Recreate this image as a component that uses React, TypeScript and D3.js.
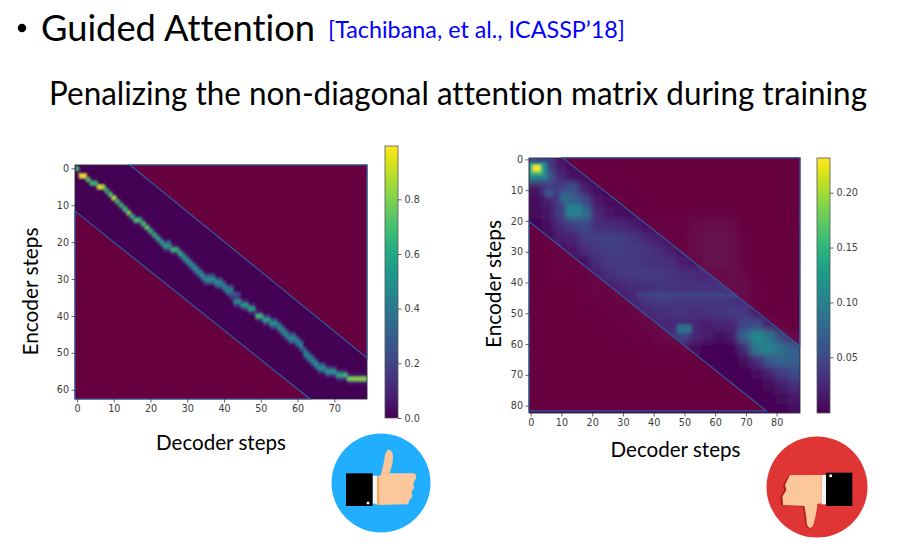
import React, { useEffect, useRef } from "react";
import * as d3 from "d3";

// ---- Left panel: alignment path, one entry per decoder step ----
const leftEncoder = [0,2,2,3,4,4,5,5,6,7,8,9,10,11,12,13,14,14,15,16,17,18,19,20,21,21,22,22,23,24,25,26,27,28,29,30,30,30,31,31,32,33,33,36,36,37,37,38,38,40,40,41,41,42,42,43,44,45,46,46,47,48,50,51,52,53,54,54,55,55,55,56,56,56,57,57,57,57,57,57];
const leftPeak = [.7,.99,.99,.72,.68,.66,.95,.88,.66,.72,.88,.68,.66,.66,.82,.66,.7,.66,.7,.74,.66,.62,.6,.56,.6,.5,.68,.68,.64,.56,.55,.52,.54,.52,.5,.48,.5,.52,.5,.48,.46,.48,.46,.48,.5,.54,.56,.6,.58,.68,.66,.62,.56,.54,.54,.5,.5,.5,.5,.46,.46,.46,.46,.48,.5,.52,.54,.52,.54,.54,.56,.58,.6,.68,.78,.82,.82,.82,.82,.82];
const leftSide = [0,0,0,0,0,0,0,0,0,.02,.02,.02,.04,.04,.05,.05,.06,.06,.06,.06,.08,.08,.1,.12,.15,.15,.08,.08,.14,.18,.18,.18,.2,.22,.24,.24,.24,.24,.25,.25,.25,.24,.24,.16,.14,.14,.14,.12,.12,.1,.1,.14,.18,.2,.2,.24,.25,.25,.25,.26,.28,.28,.26,.26,.25,.25,.22,.22,.2,.18,.16,.14,.14,.1,.08,.06,.06,.06,.06,.06];
const leftExtraDec = [25,43,44,42];
const leftExtraEnc = [20,34,34,35];
const leftExtraVal = [.35,.3,.18,.18];
const leftUpperDec = [14.4,78.9];
const leftUpperEnc = [-0.9,51.4];
const leftLowerDec = [-0.55,63.4];
const leftLowerEnc = [11.6,62.5];
const leftXTicks = [0,10,20,30,40,50,60,70];
const leftYTicks = [0,10,20,30,40,50,60];
const leftBarTicks = [0,.2,.4,.6,.8];

// ---- Right panel: coarse attention matrix, values x 1000, every 4 steps ----
const rightMatrix = [
  [55,45,14,5,3,2,2,2,1,1,1,1,1,1,1,1,1,1,1,1,1,1],
  [85,70,25,10,5,3,2,2,1,1,1,1,1,1,1,1,1,1,1,1,1,1],
  [12,40,45,60,18,6,3,2,2,1,1,1,1,1,1,1,1,1,1,1,1,1],
  [8,20,40,75,55,14,8,5,3,2,1,1,1,1,1,1,1,1,1,1,1,1],
  [6,12,42,95,85,26,14,10,8,4,2,1,1,6,8,8,7,1,1,1,1,1],
  [3,7,28,45,52,32,28,24,18,10,8,8,8,22,32,34,24,4,1,1,1,1],
  [2,5,16,22,40,42,46,42,36,26,16,10,10,32,44,48,32,7,1,1,1,1],
  [2,3,10,13,28,38,42,42,40,36,30,18,12,34,46,52,36,8,1,1,1,1],
  [2,2,7,7,11,32,38,40,38,36,34,30,20,14,42,50,40,10,1,1,1,1],
  [1,4,6,3,6,18,32,38,40,40,40,36,30,28,26,26,32,18,3,1,1,1],
  [1,4,3,2,8,12,18,24,28,32,36,36,34,34,34,36,36,30,10,2,1,1],
  [1,1,1,1,5,9,10,14,26,36,42,40,38,40,38,36,36,26,6,2,1,1],
  [1,1,1,1,2,3,5,8,14,24,30,34,34,30,34,36,40,38,14,3,1,1],
  [1,1,1,1,2,2,4,5,8,14,24,24,28,24,20,24,24,50,52,20,6,2],
  [1,1,1,1,1,2,2,3,5,10,20,30,48,24,16,9,16,75,110,90,50,20],
  [1,1,1,1,1,1,1,2,3,4,5,8,12,6,4,3,4,28,95,105,85,68],
  [1,1,1,1,1,1,1,1,1,2,2,3,3,2,2,2,2,6,28,62,72,68],
  [1,1,1,1,1,1,1,1,1,1,1,1,2,2,2,2,2,3,7,18,42,52],
  [1,1,1,1,1,1,1,1,1,1,1,1,1,1,1,1,1,2,3,5,18,32],
  [1,1,1,1,1,1,1,1,1,1,1,1,1,1,1,1,1,1,2,3,5,14],
  [1,1,1,1,1,1,1,1,1,1,1,1,1,1,1,1,1,1,1,2,3,8],
];
const rightStep = [4];
// soft details: decoder from, decoder to, encoder from, encoder to, value x 1000
const rightSoftDec0 = [5,10,12,35,48];
const rightSoftDec1 = [8,13,17,68,53];
const rightSoftEnc0 = [10,11,15,44,54];
const rightSoftEnc1 = [13,15,19,45,57];
const rightSoftVal = [65,85,105,60,105];
// the hot spot at the start of the alignment
const rightHotDec0 = [-0.5,0.5,1.2];
const rightHotDec1 = [6,4.5,3.6];
const rightHotEnc0 = [1.5,2,2.4];
const rightHotEnc1 = [7,5.5,4.4];
const rightHotVal = [105,165,230];
const rightUpperDec = [10.4,87.5];
const rightUpperEnc = [-0.5,60.6];
const rightLowerDec = [-0.5,76.6];
const rightLowerEnc = [20.2,81.7];
const rightXTicks = [0,10,20,30,40,50,60,70,80];
const rightYTicks = [0,10,20,30,40,50,60,70,80];
const rightBarTicks = [.05,.1,.15,.2];

const MAROON = "#67003f";
const MAROON_OVER = "#750037";
const LINE = "#2f5c9c";
const TICK = "#3c3c3c";
const FONT = "Lato, Open Sans";
const NOLIG: any = { fontVariantLigatures: "none", fontKerning: "normal" };

function styleAxis(sel: any) {
  sel.select(".domain").remove();
  sel.selectAll("line").attr("stroke", TICK).attr("stroke-width", 0.8);
  sel.selectAll("text").attr("fill", TICK).style("font-family", "DejaVu Sans").style("font-size", "9.6px");
}

function Axes({ x, y, xTicks, yTicks }: any) {
  const gx = useRef<SVGGElement>(null);
  const gy = useRef<SVGGElement>(null);
  useEffect(() => {
    d3.select(gx.current).call(d3.axisBottom(x).tickValues(xTicks).tickFormat(d3.format("d")).tickSize(3.5).tickPadding(2.5) as any).call(styleAxis);
    d3.select(gy.current).call(d3.axisLeft(y).tickValues(yTicks).tickFormat(d3.format("d")).tickSize(3.5).tickPadding(2.5) as any).call(styleAxis);
  }, []);
  return (
    <g>
      <g ref={gx} transform={`translate(0,${y.range()[1]})`} />
      <g ref={gy} transform={`translate(${x.range()[0]},0)`} />
    </g>
  );
}

function Colorbar({ id, x0, x1, y0, y1, max, min, ticks, fmt }: any) {
  const g = useRef<SVGGElement>(null);
  const s = d3.scaleLinear().domain([min, max]).range([y1, y0]);
  useEffect(() => {
    d3.select(g.current).call(d3.axisRight(s).tickValues(ticks).tickFormat(d3.format(fmt)).tickSize(3.5).tickPadding(3) as any).call(styleAxis);
  }, []);
  const stops = d3.range(0, 1.001, 0.05);
  return (
    <g>
      <defs>
        <linearGradient id={id} x1="0" x2="0" y1="1" y2="0">
          {stops.map((t) => <stop key={t} offset={t} stopColor={d3.interpolateViridis(t)} />)}
        </linearGradient>
      </defs>
      <rect x={x0} y={y0} width={x1 - x0} height={y1 - y0} fill={`url(#${id})`} stroke="#555" strokeWidth={0.8} />
      <g ref={g} transform={`translate(${x1},0)`} />
    </g>
  );
}

function Overlay({ x, y, upDec, upEnc, loDec, loEnc, opacity, fill }: any) {
  const [dx0, dx1] = x.domain();
  const line = d3.line<[number, number]>().x((d) => x(d[0])).y((d) => y(d[1]));
  const upper: [number, number][] = [[upDec[0], upEnc[0]], [upDec[1], upEnc[1]], [dx1, upEnc[0]]];
  const lower: [number, number][] = [[loDec[0], loEnc[0]], [loDec[1], loEnc[1]], [dx0, loEnc[1]]];
  return (
    <g>
      <rect x={x.range()[0]} y={y.range()[0]} width={x.range()[1] - x.range()[0]} height={y.range()[1] - y.range()[0]} fill="none" stroke="#2a2a3a" strokeWidth={0.9} />
      <path d={line(upper) + "Z"} fill={fill} fillOpacity={opacity} stroke={LINE} strokeWidth={1.2} />
      <path d={line(lower) + "Z"} fill={fill} fillOpacity={opacity} stroke={LINE} strokeWidth={1.2} />
    </g>
  );
}

function LeftPanel() {
  const x = d3.scaleLinear().domain([-0.55, 78.9]).range([75, 367]);
  const y = d3.scaleLinear().domain([-0.9, 62.5]).range([165, 399]);
  const color = d3.scaleSequential(d3.interpolateViridis).domain([0, 0.995]);
  const w = x(1) - x(0);
  const h = y(1) - y(0);
  return (
    <g>
      <clipPath id="clipL"><rect x={75} y={165} width={292} height={234} /></clipPath>
      <g clipPath="url(#clipL)">
        <rect x={75} y={165} width={292} height={234} fill={d3.interpolateViridis(0)} />
        <g filter="url(#blurS)">
          {leftEncoder.map((e, d) => (
            <g key={d}>
              <rect x={x(d - 0.5)} y={y(e - 1.5)} width={w + 0.3} height={h + 0.3} fill={color(leftSide[d])} />
              <rect x={x(d - 0.5)} y={y(e + 0.5)} width={w + 0.3} height={h + 0.3} fill={color(leftSide[d])} />
            </g>
          ))}
          {leftExtraDec.map((d, i) => (
            <rect key={d * 100 + i} x={x(d - 0.5)} y={y(leftExtraEnc[i] - 0.5)} width={w + 0.3} height={h + 0.3} fill={color(leftExtraVal[i])} />
          ))}
          {leftEncoder.map((e, d) => (
            <rect key={d} x={x(d - 0.5)} y={y(e - 0.5)} width={w + 0.3} height={h + 0.3} fill={color(leftPeak[d])} />
          ))}
        </g>
      </g>
      <Overlay x={x} y={y} upDec={leftUpperDec} upEnc={leftUpperEnc} loDec={leftLowerDec} loEnc={leftLowerEnc} opacity={1} fill={MAROON} />
      <Axes x={x} y={y} xTicks={leftXTicks} yTicks={leftYTicks} />
      <Colorbar id="cbL" x0={385} x1={398} y0={146} y1={418} min={0} max={0.995} ticks={leftBarTicks} fmt=".1f" />
      <AxisTitle x={221} y={450} text="Decoder steps" len={130} />
      <AxisTitle x={38} y={291.5} text="Encoder steps" len={128} rotate />
    </g>
  );
}

function RightPanel() {
  const x = d3.scaleLinear().domain([-0.55, 87.6]).range([529, 800]);
  const y = d3.scaleLinear().domain([-0.45, 82.4]).range([158, 413]);
  const color = d3.scaleSequential(d3.interpolateViridis).domain([0.0005, 0.2316]);
  const step = rightStep[0];
  const nr = rightMatrix.length;
  return (
    <g>
      <clipPath id="clipR"><rect x={529} y={158} width={271} height={255} /></clipPath>
      <g clipPath="url(#clipR)">
        <rect x={529} y={158} width={271} height={255} fill={d3.interpolateViridis(0)} />
        <g filter="url(#blurM)">
          {rightMatrix.map((row, r) =>
            row.map((v, c) => {
              const padL = c === 0 ? 12 : 0;
              const padR = c === row.length - 1 ? 12 : 0;
              const padT = r === 0 ? 12 : 0;
              const padB = r === nr - 1 ? 12 : 0;
              return (
                <rect key={`${r}-${c}`} x={x(c * step - 0.5) - padL} y={y(r * step - 0.5) - padT}
                  width={x(step) - x(0) + 0.4 + padL + padR} height={y(step) - y(0) + 0.4 + padT + padB}
                  fill={color(v / 1000)} />
              );
            })
          )}
        </g>
        <g filter="url(#blurW)" opacity={0.75}>
          {rightSoftVal.map((v, i) => (
            <rect key={i} x={x(rightSoftDec0[i] - 0.5)} y={y(rightSoftEnc0[i] - 0.5)}
              width={x(rightSoftDec1[i]) - x(rightSoftDec0[i])} height={y(rightSoftEnc1[i]) - y(rightSoftEnc0[i])}
              fill={color(v / 1000)} />
          ))}
        </g>
        <g filter="url(#blurF)">
          {rightHotVal.map((v, i) => (
            <rect key={i} x={x(rightHotDec0[i] - 0.5)} y={y(rightHotEnc0[i] - 0.5)}
              width={x(rightHotDec1[i]) - x(rightHotDec0[i])} height={y(rightHotEnc1[i]) - y(rightHotEnc0[i])}
              fill={color(v / 1000)} />
          ))}
        </g>
      </g>
      <Overlay x={x} y={y} upDec={rightUpperDec} upEnc={rightUpperEnc} loDec={rightLowerDec} loEnc={rightLowerEnc} opacity={0.72} fill={MAROON_OVER} />
      <Axes x={x} y={y} xTicks={rightXTicks} yTicks={rightYTicks} />
      <Colorbar id="cbR" x0={817} x1={830} y0={158} y1={413} min={-0.0008} max={0.2316} ticks={rightBarTicks} fmt=".2f" />
      <AxisTitle x={675.5} y={457} text="Decoder steps" len={130} />
      <AxisTitle x={501} y={284} text="Encoder steps" len={128} rotate />
    </g>
  );
}

function AxisTitle({ x, y, text, len, rotate }: any) {
  return (
    <text x={x} y={y} textAnchor="middle" fontFamily={FONT} fontSize={21} fill="#000" style={NOLIG}
      textLength={len} lengthAdjust="spacingAndGlyphs"
      transform={rotate ? `rotate(-90 ${x} ${y})` : undefined}>{text}</text>
  );
}

function ThumbUp() {
  return (
    <g>
      <circle cx={381} cy={483} r={49.5} fill="#22aeff" />
      <g transform="translate(320,425) scale(0.3333)">
        <path d="M170,155 L182,150 Q190,125 195,90 Q205,62 218,85 Q222,112 208,145 L280,145 Q290,147 288,160 L280,175 L282,190 L275,200 L277,215 L268,225 L265,238 L170,240 Z" fill="#fcc79b" />
        <rect x={170} y={155} width={8} height={85} fill="#f5a860" />
        <rect x={157} y={152} width={14} height={84} fill="#f4f4f4" />
        <rect x={78} y={145} width={80} height={98} fill="#000" />
        <circle cx={144} cy={234} r={4.5} fill="#fff" />
      </g>
    </g>
  );
}

function ThumbDown() {
  return (
    <g>
      <circle cx={817} cy={487} r={50.5} fill="#e03535" />
      <g transform="translate(755,430) scale(0.3333)">
        <path d="M200,135 L103,135 L92,150 L84,165 L88,180 L76,200 L78,226 L144,230 Q150,262 150,282 Q162,305 172,290 Z" fill="#b01818" />
        <path d="M200,135 L105,135 L97,150 L90,165 L94,180 L82,200 L84,225 L148,228 Q155,260 155,282 Q165,305 175,285 Q185,250 187,222 L200,220 Z" fill="#fcc79b" />
        <rect x={200} y={135} width={14} height={88} fill="#f4f4f4" />
        <rect x={213} y={128} width={79} height={100} fill="#000" />
        <circle cx={227} cy={137} r={4.5} fill="#fff" />
      </g>
    </g>
  );
}

export default function App() {
  return (
    <svg width={920} height={547} viewBox="0 0 920 547" style={{ position: "absolute", left: 0, top: 0, background: "#fff" }}>
      <defs>
        <filter id="blurS" x="-5%" y="-5%" width="110%" height="110%"><feGaussianBlur stdDeviation="0.9" /></filter>
        <filter id="blurM" x="-5%" y="-5%" width="110%" height="110%"><feGaussianBlur stdDeviation="3.4" /></filter>
        <filter id="blurW" x="-10%" y="-10%" width="120%" height="120%" ><feGaussianBlur stdDeviation="1.8" /></filter>
        <filter id="blurF" x="-10%" y="-10%" width="120%" height="120%"><feGaussianBlur stdDeviation="1.1" /></filter>
      </defs>
      <circle cx={22} cy={28} r={4.2} fill="#000" />
      <text x={41} y={41} fontFamily={FONT} fontSize={36} fill="#000" style={NOLIG} textLength={274} lengthAdjust="spacingAndGlyphs">Guided Attention</text>
      <text x={328} y={38} fontFamily={FONT} fontSize={24} fill="#0000ff" style={NOLIG} textLength={297} lengthAdjust="spacingAndGlyphs">[Tachibana, et al., ICASSP’18]</text>
      <text x={49} y={105} fontFamily={FONT} fontSize={32} fill="#000" style={NOLIG} textLength={818} lengthAdjust="spacingAndGlyphs">Penalizing the non-diagonal attention matrix during training</text>
      <LeftPanel />
      <RightPanel />
      <ThumbUp />
      <ThumbDown />
    </svg>
  );
}
